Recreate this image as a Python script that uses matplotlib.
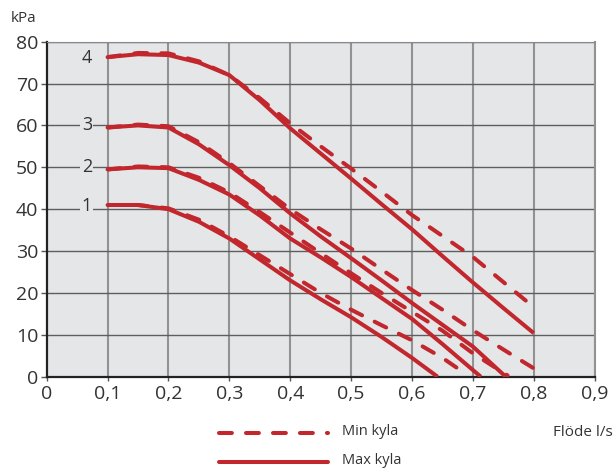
import matplotlib
matplotlib.use("Agg")
import matplotlib.pyplot as plt
from matplotlib.lines import Line2D

plt.rcParams['font.family'] = ['Open Sans', 'DejaVu Sans']

# flow (l/s) and pressure (kPa) for pump speeds 1-4
flow_max_1 = [0.1, 0.15, 0.2, 0.25, 0.3, 0.35, 0.4, 0.45, 0.5, 0.55, 0.6, 0.642]
kpa_max_1 = [41, 41, 40, 37, 33, 28, 23, 18.5, 14.2, 9.5, 4.5, 0]
flow_min_1 = [0.1, 0.15, 0.2, 0.25, 0.3, 0.35, 0.4, 0.45, 0.5, 0.55, 0.6, 0.65, 0.69]
kpa_min_1 = [41, 41, 40.2, 37.5, 33.5, 29, 24.5, 20, 16, 12.3, 8.7, 4.5, 0.5]

flow_max_2 = [0.1, 0.15, 0.2, 0.25, 0.3, 0.35, 0.4, 0.45, 0.5, 0.55, 0.6, 0.65, 0.7, 0.713]
kpa_max_2 = [49.5, 50, 49.8, 47, 43.5, 38.5, 33, 28.5, 23.8, 18.8, 13.8, 7.8, 1.6, 0]
flow_min_2 = [0.1, 0.15, 0.2, 0.25, 0.3, 0.35, 0.4, 0.45, 0.5, 0.55, 0.6, 0.65, 0.7, 0.757]
kpa_min_2 = [49.5, 50.2, 50, 47.5, 44, 39.3, 34.4, 29.5, 24.7, 20, 15.5, 11, 5.6, 0.3]

flow_max_3 = [0.1, 0.15, 0.2, 0.25, 0.3, 0.35, 0.4, 0.45, 0.5, 0.55, 0.6, 0.65, 0.7, 0.754]
kpa_max_3 = [59.5, 60, 59.5, 55.5, 50.5, 45, 39, 33.5, 28.3, 23, 17.6, 12.4, 7.2, 0]
flow_min_3 = [0.1, 0.15, 0.2, 0.25, 0.3, 0.35, 0.4, 0.45, 0.5, 0.55, 0.6, 0.65, 0.7, 0.75, 0.8]
kpa_min_3 = [59.5, 60.2, 59.8, 56, 51, 45.5, 40, 35.2, 30.6, 25.6, 20.7, 16, 11.1, 6.5, 2]

flow_max_4 = [0.1, 0.15, 0.2, 0.25, 0.3, 0.35, 0.4, 0.45, 0.5, 0.55, 0.6, 0.65, 0.7, 0.75, 0.8]
kpa_max_4 = [76.3, 77, 76.8, 75, 72, 66, 59.3, 53.3, 47.3, 41.2, 35.2, 28.8, 22.5, 16.4, 10.4]
flow_min_4 = [0.1, 0.15, 0.2, 0.25, 0.3, 0.35, 0.4, 0.45, 0.5, 0.55, 0.6, 0.65, 0.7, 0.75, 0.8]
kpa_min_4 = [76.3, 77.3, 77.2, 75.3, 72, 66.5, 60.5, 55, 49.7, 44.2, 38.6, 33.6, 28.6, 22.6, 16.6]

speed_labels = ["1", "2", "3", "4"]
speed_label_kpa = [40.8, 50, 60, 76]
legend_labels = ["Min kyla", "Max kyla"]

x_ticks = [0, 0.1, 0.2, 0.3, 0.4, 0.5, 0.6, 0.7, 0.8, 0.9]
y_ticks = [0, 10, 20, 30, 40, 50, 60, 70, 80]

red = "#c1272d"
bg = "#e5e6e8"
txt = "#333333"

fig = plt.figure(figsize=(6.16, 4.68), dpi=100)
ax = fig.add_axes([0.0758, 0.195, 0.8896, 0.716])
ax.set_facecolor(bg)

ax.set_xlim(0, 0.9)
ax.set_ylim(0, 80)
ax.set_xticks(x_ticks)
ax.set_yticks(y_ticks)
ax.set_xticklabels(["0"] + [("%.1f" % v).replace(".", ",") for v in x_ticks[1:]])

for v in x_ticks[1:]:
    ax.axvline(v, color="#929292", lw=1.5, zorder=1)
for v in y_ticks[1:]:
    ax.axhline(v, color="#5e5e5e", lw=1.0, zorder=1)

ax.spines["left"].set_color("#222222")
ax.spines["left"].set_linewidth(1.6)
ax.spines["bottom"].set_color("#222222")
ax.spines["bottom"].set_linewidth(1.6)
ax.spines["top"].set_color("#8a8a8a")
ax.spines["right"].set_color("#929292")
ax.spines["right"].set_linewidth(1.5)

ax.tick_params(axis="y", length=4, width=1, color="#555555", pad=2,
               labelsize=14, labelcolor=txt)
ax.tick_params(axis="x", length=3, width=1, color="#555555", pad=3,
               labelsize=14, labelcolor=txt)

lw = 2.9
dash = (3.2, 3.5)
curves = [
    (flow_max_1, kpa_max_1, flow_min_1, kpa_min_1),
    (flow_max_2, kpa_max_2, flow_min_2, kpa_min_2),
    (flow_max_3, kpa_max_3, flow_min_3, kpa_min_3),
    (flow_max_4, kpa_max_4, flow_min_4, kpa_min_4),
]
for fx, fy, mx, my in curves:
    ax.plot(fx, fy, color=red, lw=lw, solid_capstyle="butt",
            solid_joinstyle="round", zorder=3)
    ax.plot(mx, my, color=red, lw=lw, dashes=dash,
            dash_capstyle="round", zorder=3)

for lab, k in zip(speed_labels, speed_label_kpa):
    ax.text(0.066, k, lab, fontsize=13, color=txt, ha="center", va="center",
            bbox=dict(facecolor=bg, edgecolor="none", pad=1.0), zorder=2)

fig.text(0.038, 0.961, "kPa", fontsize=11, color=txt, ha="center", va="center")
fig.text(0.946, 0.075, "Flöde l/s", fontsize=11, color=txt, ha="center", va="center")

# legend drawn by hand under the plot
rows_y = [0.0755, 0.0125]
styles = [dict(dashes=dash, dash_capstyle="round"), dict(solid_capstyle="round")]
for yy, lab, st in zip(rows_y, legend_labels, styles):
    fig.add_artist(Line2D([0.355, 0.533], [yy, yy], transform=fig.transFigure,
                          color=red, lw=lw, **st))
    fig.text(0.555, yy + 0.003, lab, fontsize=10.5, color=txt, ha="left", va="center")

fig.savefig("out.png", dpi=100)
